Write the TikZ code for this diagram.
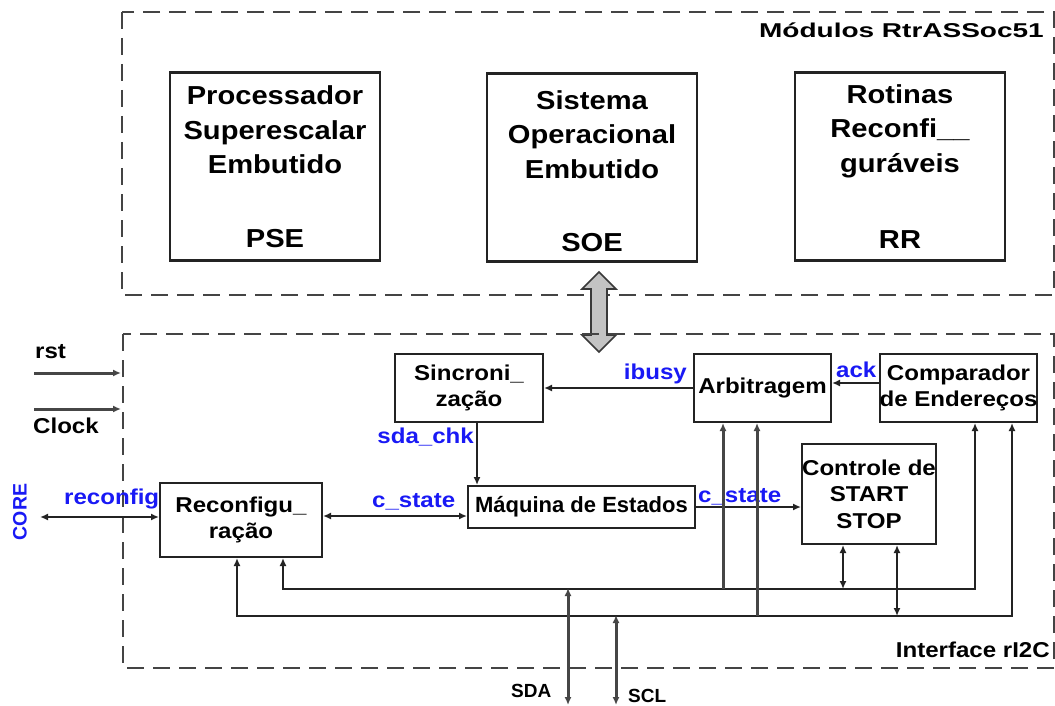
\documentclass[tikz,border=0pt]{standalone}
\usepackage{fontspec}
\setmainfont{Liberation Sans}
\newfontfamily\widesans{Liberation Sans}[FakeStretch=1.12]
\newfontfamily\xwidesans{Liberation Sans}[FakeStretch=1.4]
\usetikzlibrary{arrows.meta}
\definecolor{sigblue}{RGB}{25,25,245}
\definecolor{edge}{RGB}{35,35,35}
\definecolor{arrowfill}{RGB}{195,195,195}

\begin{document}
\begin{tikzpicture}[x=1pt,y=-1pt,
  >={Latex[length=8pt,width=7pt]},
  frame/.style={draw=edge!85, line width=2pt, dash pattern=on 17pt off 9pt},
  bigbox/.style={draw=edge, line width=2.4pt, inner sep=0pt, align=center,
    minimum width=210pt, minimum height=188pt,
    font=\widesans\bfseries\fontsize{26}{34.5}\selectfont},
  bigtext/.style={inner sep=0pt, align=center,
    font=\widesans\bfseries\fontsize{26}{34.5}\selectfont},
  blk/.style={draw=edge, line width=2pt, inner sep=0pt, align=center,
    font=\widesans\bfseries\fontsize{21.5}{26.5}\selectfont},
  wire/.style={draw=edge, line width=2pt},
  heavywire/.style={draw=gray!55!black, line width=3pt},
  sig/.style={text=sigblue, inner sep=0pt, font=\widesans\bfseries\fontsize{21.5}{24}\selectfont},
  lbl/.style={text=black, inner sep=0pt, font=\widesans\bfseries\fontsize{21.5}{24}\selectfont},
]
\fill[white] (0,0) rectangle (1055,706);
\useasboundingbox (0,0) rectangle (1055,706);

% ---- RtrASSoc51 modules ----
\draw[frame] (122,12) rectangle (1054,295);
\node[anchor=base east, inner sep=0pt, font=\xwidesans\bfseries\fontsize{20}{22}\selectfont]
  (modtitle) at (1044,38) {Módulos RtrASSoc51};

\node[bigbox] (pse) at (275,166.5) {Processador\\Superescalar\\Embutido\\[39pt]PSE};
\node[bigbox] (soe) at (592,167.5) {};
\node[bigtext] (soetext) at ([yshift=-3.5pt]soe.center) {Sistema\\Operacional\\Embutido\\[39pt]SOE};
\node[bigbox] (rr)  at (900,166.5) {Rotinas\\Reconfi\_\_\\guráveis\\[42pt]RR};

% bidirectional link between the two blocks
\filldraw[fill=arrowfill, draw=edge!90, line width=1.6pt, line join=miter]
  (599,272) -- (616,289) -- (607,289) -- (607,335) -- (616,335) -- (599,352)
  -- (582,335) -- (591,335) -- (591,289) -- (582,289) -- cycle;

% ---- rI2C interface ----
\draw[frame] (123,334) rectangle (1054,668);
\node[lbl, anchor=base east] (ifname) at (1050,657) {Interface rI2C};

\node[blk, minimum width=148pt, minimum height=68pt] (sync) at (469,388) {Sincroni\_\\zação};
\node[blk, minimum width=137pt, minimum height=68pt] (arb) at (762.5,388) {Arbitragem};
\node[blk, minimum width=151pt, minimum height=68pt] (cmp) at (958.5,388) {Comparador\\de Endereços};
\node[blk, minimum width=227pt, minimum height=42pt,
  font=\bfseries\fontsize{22}{24}\selectfont] (fsm) at (581.5,507) {Máquina de Estados};
\node[blk, minimum width=134pt, minimum height=100pt] (ctl) at (869,494) {Controle de\\START\\STOP};
\node[blk, minimum width=162pt, minimum height=74pt] (rcf) at (241,520) {Reconfigu\_\\ração};

% external signals
\coordinate (rstin) at (34,373);
\coordinate (rstend) at (121,373);
\coordinate (clkin) at (34,409);
\coordinate (clkend) at (121,409);
\coordinate (core) at (40,517);
\draw[heavywire,->] (rstin) -- (rstend);
\draw[heavywire,->] (clkin) -- (clkend);
\node[lbl, anchor=base west] (rst) at (35,358) {rst};
\node[lbl, anchor=base west] (clk) at (33,433) {Clock};
\node[sig, rotate=90, font=\bfseries\fontsize{19.5}{22}\selectfont] (corelbl) at (20,512) {CORE};

% internal connections
\draw[wire,->] (arb.west) -- (sync.east);
\draw[wire,->] ([yshift=5pt]cmp.west) -- ([yshift=5pt]arb.east);
\draw[wire,->] ([xshift=8pt]sync.south) -- ([xshift=8pt]sync.south |- fsm.north);
\draw[wire,<->] ([yshift=4pt]rcf.east) -- ([yshift=4pt]rcf.east -| fsm.west);
\draw[wire,->] (fsm.east) -- (fsm.east -| ctl.west);
\draw[wire,<->] (core) -- (core -| rcf.west);

\node[sig, anchor=base east] (ibusy) at (687,379) {ibusy};
\node[sig, anchor=base west] (ack) at (836,377) {ack};
\node[sig, anchor=base east] (sdachk) at (474,443) {sda\_chk};
\node[sig, anchor=base west] (cst1) at (372,507) {c\_state};
\node[sig, anchor=base west] (cst2) at (698,502) {c\_state};
\node[sig, anchor=base west] (reconfig) at (64,504) {reconfig};

% internal buses
\draw[wire,<->] ([xshift=42pt]rcf.south) -- ++(0,31) -| ([xshift=16.5pt]cmp.south);
\draw[wire,<->] ([xshift=-4pt]rcf.south) -- ++(0,58) -| ([xshift=53.5pt]cmp.south);
\draw[heavywire,<-] ([xshift=-39.5pt]arb.south) -- ++(0,166);
\draw[heavywire,<-] ([xshift=-5.5pt]arb.south) -- ++(0,193);
\draw[wire,<->] ([xshift=-26pt]ctl.south) -- ++(0,44);
\draw[wire,<->] ([xshift=28pt]ctl.south) -- ++(0,71);

% I2C lines
\coordinate (sdabus) at (568,588);
\coordinate (sdaend) at (568,705);
\coordinate (sclbus) at (616,615);
\coordinate (sclend) at (616,705);
\draw[heavywire,<->] (sdabus) -- (sdaend);
\draw[heavywire,<->] (sclbus) -- (sclend);
\node[lbl, anchor=base west, font=\bfseries\fontsize{19}{22}\selectfont] (sda) at (511,697) {SDA};
\node[lbl, anchor=base west, font=\bfseries\fontsize{19}{22}\selectfont] (scl) at (628,702) {SCL};
\end{tikzpicture}
\end{document}
